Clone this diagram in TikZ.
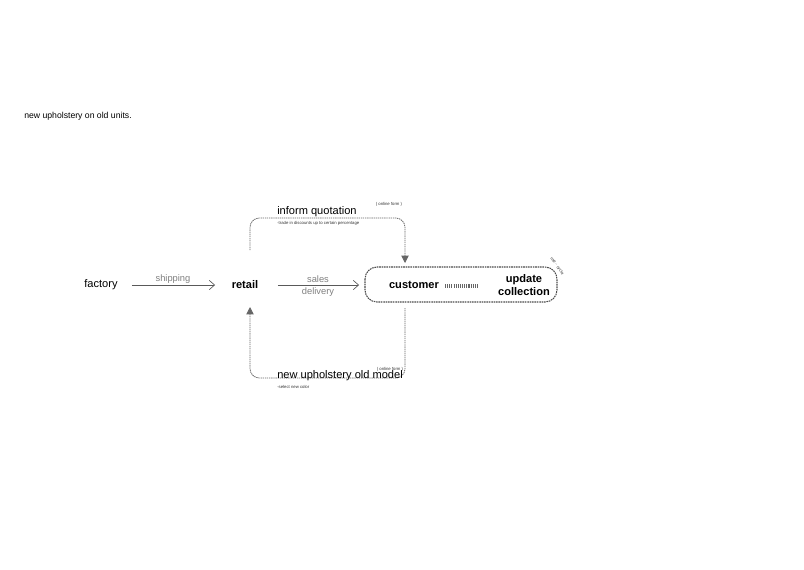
\documentclass[tikz,border=0pt]{standalone}
\usepackage{fontspec}
\setmainfont{Liberation Sans}
\usetikzlibrary{arrows.meta}
\begin{document}
\begin{tikzpicture}[x=1pt,y=-1pt,
  lbl/.style={inner sep=0pt,font=\fontsize{6.5}{8}\selectfont},
  big/.style={inner sep=0pt,font=\fontsize{8.3}{9}\selectfont},
  bold/.style={inner sep=0pt,font=\fontsize{8.3}{10}\selectfont\bfseries},
  gray/.style={inner sep=0pt,text=gray,font=\fontsize{7}{9}\selectfont},
  tiny/.style={inner sep=0pt,font=\fontsize{3.2}{4}\selectfont,text=black!80},
  flow/.style={-{Straight Barb[length=4pt,width=7pt]},gray!70!black,line width=0.5pt},
  loop/.style={dash pattern=on 1pt off 0.6pt,black!60,line width=0.6pt,rounded corners=7pt,-{Triangle[length=5.5pt,width=5.5pt]}}]
\useasboundingbox (0,0) rectangle (603,426.75);
\begin{scope}[scale=0.75]
\node[lbl,anchor=west] (t) at (24,116) {new upholstery on old units.};
\node[big] (f) at (101,285) {factory};
\node[bold] (r) at (245,285) {retail};
\node[inner sep=0pt] (s1) at (131,285) {};
\node[inner sep=0pt] (s2) at (216,285) {};
\draw[flow] (s1) -- (s2);
\node[gray] (sh) at (173,279) {shipping};
\node[inner sep=0pt] (d1) at (277,285) {};
\node[inner sep=0pt] (d2) at (360,285) {};
\draw[flow] (d1) -- (d2);
\node[gray] (sa) at (318,279) {sales};
\node[gray] (de) at (318,292) {delivery};
\draw[dash pattern=on 1.2pt off 0.6pt,black!70,line width=0.8pt,rounded corners=9pt] (365,267) rectangle (557,302);
\node[bold] (c) at (414,285) {customer};
\draw[dash pattern=on 0.8pt off 0.8pt,black!60,line width=2.5pt] (445,286) -- (478,286);
\node[bold,align=center] (u) at (524,285) {update\\collection};
\node[tiny,rotate=-55] (use) at (557,266) {use - cycle};
\coordinate (a1) at (250,250);
\coordinate (a2) at (405,263);
\draw[loop] (a1) |- (405,218) -- (a2);
\coordinate (b1) at (405,308);
\coordinate (b2) at (250,307);
\draw[loop] (b1) |- (250,378) -- (b2);
\node[big,anchor=west] (iq) at (277,212) {inform quotation};
\node[tiny] (of1) at (389,204) {( online form )};
\node[tiny,anchor=west] (tr) at (277,223) {-trade in discounts up to certain percentage};
\node[big,anchor=west] (nu) at (277,376) {new upholstery old model};
\node[tiny] (of2) at (390,369) {( online form )};
\node[tiny,anchor=west] (sc) at (277,387) {-select new color};
\end{scope}
\end{tikzpicture}
\end{document}
